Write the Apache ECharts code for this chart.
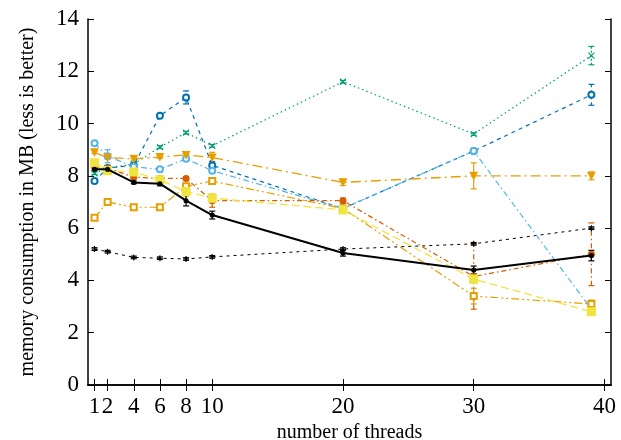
<!DOCTYPE html>
<html>
<head>
<meta charset="utf-8">
<script src="https://cdn.jsdelivr.net/npm/echarts@6/dist/echarts.min.js"></script>
<style>
  html, body { margin: 0; padding: 0; background: #fff; }
  #chart { width: 621px; height: 440px; }
</style>
</head>
<body>
<div id="chart"></div>
<script>
// x values (number of threads)
var threads = [1, 2, 4, 6, 8, 10, 20, 30, 39];
var xTicks = [1, 2, 4, 6, 8, 10, 20, 30, 40];

// measured values (MB) and error half-widths
var blackSolid = [8.25, 8.25, 7.75, 7.7, 7.05, 6.5, 5.05, 4.4, 4.95];
var blackSolidErr = [0.05, 0.05, 0.05, 0.08, 0.2, 0.15, 0.12, 0.15, 0.2];
var blackDashed = [5.2, 5.1, 4.88, 4.85, 4.82, 4.9, 5.2, 5.4, 6.0];
var blackDashedErr = [0.05, 0.05, 0.05, 0.05, 0.05, 0.05, 0.05, 0.05, 0.05];
var green = [8.1, 8.3, 8.45, 9.1, 9.65, 9.15, 11.6, 9.6, 12.6];
var greenErr = [0.05, 0.05, 0.05, 0.05, 0.05, 0.05, 0.05, 0.05, 0.35];
var blue = [7.8, 8.3, 8.4, 10.3, 11.0, 8.4, 6.75, 8.95, 11.1];
var blueErr = [0.05, 0.05, 0.1, 0.05, 0.25, 0.15, 0.05, 0.05, 0.4];
var skyBlue = [9.25, 8.75, 8.35, 8.25, 8.65, 8.2, 6.75, 8.95, 2.9];
var skyBlueErr = [0.05, 0.25, 0.1, 0.1, 0.05, 0.1, 0.05, 0.05, 0.15];
var orangeTri = [8.9, 8.7, 8.65, 8.72, 8.8, 8.7, 7.75, 8.0, 8.0];
var orangeTriErr = [0.05, 0.05, 0.05, 0.05, 0.05, 0.2, 0.12, 0.5, 0.15];
var orangeSq = [6.4, 7.0, 6.8, 6.8, 7.6, 7.8, 6.75, 3.4, 3.1];
var orangeSqErr = [0.05, 0.05, 0.1, 0.05, 0.1, 0.05, 0.05, 0.3, 0.15];
var yellow = [8.5, 8.2, 8.15, 7.85, 7.4, 7.15, 6.7, 4.05, 2.8];
var yellowErr = [0.05, 0.05, 0.05, 0.05, 0.2, 0.15, 0.1, 0.1, 0.1];
var vermillion = [8.35, 8.3, 7.95, 7.9, 7.9, 7.05, 7.05, 4.15, 5.0];
var vermillionErr = [0.05, 0.05, 0.05, 0.05, 0.05, 0.25, 0.1, 1.25, 1.2];

var plusPath = 'path://M0,5L10,5M5,0L5,10';
var crossPath = 'path://M0,0L10,10M10,0L0,10';

function pairs(vals) {
    return threads.map(function (x, i) { return [x, vals[i]]; });
}

function lineSeries(name, vals, color, dash, width, symbol, size, extra) {
    var s = {
        name: name,
        type: 'line',
        data: pairs(vals),
        symbol: symbol,
        symbolSize: size,
        showSymbol: true,
        lineStyle: { color: color, width: width, type: dash },
        itemStyle: { color: color, borderColor: color, borderWidth: 1.1 },
        z: 3,
        animation: false
    };
    if (extra) {
        for (var k in extra) s[k] = extra[k];
    }
    return s;
}

// error bars drawn through the axes with a custom series
function errSeries(vals, errs, color, dash) {
    return {
        type: 'custom',
        data: threads.map(function (x, i) { return [x, vals[i], errs[i]]; }),
        encode: { x: 0, y: 1 },
        animation: false,
        z: 2,
        renderItem: function (params, api) {
            var x = api.value(0), y = api.value(1), e = api.value(2);
            var lo = api.coord([x, y - e]);
            var hi = api.coord([x, y + e]);
            var style = { stroke: color, lineWidth: 1.2, lineDash: dash };
            var capStyle = { stroke: color, lineWidth: 1.2 };
            return {
                type: 'group',
                children: [
                    { type: 'line', shape: { x1: lo[0], y1: lo[1], x2: hi[0], y2: hi[1] }, style: style },
                    { type: 'line', shape: { x1: lo[0] - 3, y1: lo[1], x2: lo[0] + 3, y2: lo[1] }, style: capStyle },
                    { type: 'line', shape: { x1: hi[0] - 3, y1: hi[1], x2: hi[0] + 3, y2: hi[1] }, style: capStyle }
                ]
            };
        }
    };
}

var cBlack = '#000000', cGreen = '#009e73', cBlue = '#0072b2', cSky = '#56b4e9',
    cOrange = '#e69f00', cYellow = '#f0e442', cVerm = '#d55e00';

var series = [
    errSeries(blackDashed, blackDashedErr, cBlack, null),
    lineSeries('b', blackDashed, cBlack, [3, 4], 1, plusPath, 6),
    errSeries(green, greenErr, cGreen, [2, 2]),
    lineSeries('g', green, cGreen, [1.5, 3], 1.2, crossPath, 6),
    errSeries(blue, blueErr, cBlue, [3, 3]),
    lineSeries('bl', blue, cBlue, [4, 4], 1.2, 'emptyCircle', 6),
    errSeries(skyBlue, skyBlueErr, cSky, null),
    lineSeries('sb', skyBlue, cSky, [6, 3, 1.5, 3], 1.2, 'emptyCircle', 6),
    errSeries(orangeTri, orangeTriErr, cOrange, null),
    lineSeries('ot', orangeTri, cOrange, [10, 4, 2, 4], 1.3, 'triangle', 7, { symbolRotate: 180 }),
    errSeries(orangeSq, orangeSqErr, cOrange, null),
    lineSeries('os', orangeSq, cOrange, [8, 3, 2, 3, 2, 3], 1.2, 'emptyRect', 6),
    errSeries(vermillion, vermillionErr, cVerm, [5, 3, 1.5, 3]),
    lineSeries('v', vermillion, cVerm, [5, 3, 1.5, 3], 1.2, 'circle', 6),
    errSeries(yellow, yellowErr, cYellow, null),
    lineSeries('y', yellow, cYellow, [8, 4], 1.3, 'rect', 8),
    errSeries(blackSolid, blackSolidErr, cBlack, null),
    lineSeries('bs', blackSolid, cBlack, 'solid', 2, 'circle', 4, { z: 5 })
];

var fontFam = '"Liberation Serif", "DejaVu Serif", serif';

var option = {
    backgroundColor: '#ffffff',
    animation: false,
    grid: { left: 88, right: 10, top: 19, bottom: 55, containLabel: false, outerBoundsMode: 'none' },
    xAxis: [{
        type: 'value',
        min: 0.5,
        max: 40.5,
        position: 'bottom',
        name: 'number of threads',
        nameLocation: 'middle',
        nameGap: 33,
        nameTextStyle: { fontFamily: fontFam, fontSize: 20, color: '#000' },
        axisLine: { show: true, lineStyle: { color: '#000', width: 1.5 } },
        axisTick: { show: true, inside: true, length: 6, customValues: xTicks, lineStyle: { color: '#000' } },
        axisLabel: { customValues: xTicks, fontFamily: fontFam, fontSize: 23, color: '#000', margin: 10 },
        splitLine: { show: false }
    }, {
        type: 'value',
        min: 0.5,
        max: 40.5,
        position: 'top',
        axisLine: { show: true, lineStyle: { color: '#000', width: 1.5 } },
        axisTick: { show: true, inside: true, length: 6, customValues: xTicks, lineStyle: { color: '#000' } },
        axisLabel: { show: false },
        splitLine: { show: false }
    }],
    yAxis: [{
        type: 'value',
        min: 0,
        max: 14,
        interval: 2,
        position: 'left',
        name: 'memory consumption in MB (less is better)',
        nameLocation: 'middle',
        nameGap: 50,
        nameTextStyle: { fontFamily: fontFam, fontSize: 20, color: '#000' },
        axisLine: { show: true, lineStyle: { color: '#000', width: 1.5 } },
        axisTick: { show: true, inside: true, length: 6, lineStyle: { color: '#000' } },
        axisLabel: { fontFamily: fontFam, fontSize: 23, color: '#000', margin: 9 },
        splitLine: { show: false }
    }, {
        type: 'value',
        min: 0,
        max: 14,
        interval: 2,
        position: 'right',
        axisLine: { show: true, lineStyle: { color: '#000', width: 1.5 } },
        axisTick: { show: true, inside: true, length: 6, lineStyle: { color: '#000' } },
        axisLabel: { show: false },
        splitLine: { show: false }
    }],
    series: series
};

var chart = echarts.init(document.getElementById('chart'), null, { renderer: 'canvas' });
chart.setOption(option);
</script>
</body>
</html>
